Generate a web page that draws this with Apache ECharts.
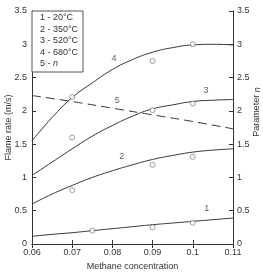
<!DOCTYPE html>
<html>
  <head>
    <meta charset="utf-8" />
    <title>Flame rate vs methane concentration</title>
    <style>
      html, body { margin: 0; padding: 0; background: #fff; }
    </style>
  </head>
  <body>
    <script type="text/javascript" src="https://cdn.jsdelivr.net/npm/echarts/dist/echarts.min.js"></script>

    <div id="container" style="width: 263px;height: 274px;"></div>

    <script type="text/javascript">
    var curveX = [0.06, 0.065, 0.07, 0.075, 0.08, 0.085, 0.09, 0.095, 0.1, 0.105, 0.11];

    // fitted curves (flame rate, m/s)
    var curve20 = [0.115, 0.145, 0.17, 0.2, 0.23, 0.26, 0.29, 0.315, 0.34, 0.365, 0.39];
    var curve350 = [0.6, 0.75, 0.88, 1.0, 1.1, 1.19, 1.27, 1.33, 1.38, 1.41, 1.43];
    var curve520 = [1.03, 1.23, 1.43, 1.62, 1.78, 1.92, 2.03, 2.09, 2.14, 2.16, 2.17];
    var curve680 = [1.55, 1.9, 2.2, 2.42, 2.62, 2.77, 2.88, 2.95, 2.99, 3.0, 2.99];

    // parameter n (right axis)
    var nX = [0.06, 0.07, 0.08, 0.09, 0.1, 0.11];
    var nValues = [2.23, 2.14, 2.04, 1.94, 1.84, 1.73];

    // measured points
    var pts20 = [[0.075, 0.2], [0.09, 0.25], [0.1, 0.32]];
    var pts350 = [[0.07, 0.81], [0.09, 1.19], [0.1, 1.31]];
    var pts520 = [[0.07, 1.6], [0.09, 2.01], [0.1, 2.11]];
    var pts680 = [[0.07, 2.21], [0.09, 2.75], [0.1, 3.0]];

    // curve number labels
    var curveLabels = [
        ['1', 0.1035, 0.54],
        ['2', 0.0823, 1.31],
        ['3', 0.1033, 2.31],
        ['4', 0.0804, 2.78],
        ['5', 0.0812, 2.15]
    ];

    var legendLines = ['1 - 20°C', '2 - 350°C', '3 - 520°C', '4 - 680°C', '5 - {i|n}'];

    function pair(xs, ys) {
        return xs.map(function (x, i) { return [x, ys[i]]; });
    }

    var FONT = 'Liberation Sans';
    var INK = '#333';

    var myChart = echarts.init(document.getElementById('container'));

    function curveSeries(ys) {
        return {
            type: 'line',
            smooth: true,
            showSymbol: false,
            silent: true,
            data: pair(curveX, ys),
            lineStyle: { color: INK, width: 1 },
            z: 3
        };
    }

    function pointSeries(pts) {
        return {
            type: 'scatter',
            symbol: 'circle',
            symbolSize: 5,
            data: pts,
            itemStyle: { color: '#fff', borderColor: '#666', borderWidth: 0.8 },
            z: 4
        };
    }

    var legendGraphic = [{
        type: 'rect',
        shape: { x: 32, y: 11, width: 51, height: 61 },
        style: { fill: '#fff', stroke: '#555', lineWidth: 1 },
        z: 10
    }];
    legendLines.forEach(function (t, i) {
        legendGraphic.push({
            type: 'text',
            left: 40,
            top: 13 + i * 11.6,
            z: 11,
            style: {
                text: t,
                fontFamily: FONT,
                fontSize: 9,
                fill: INK,
                rich: { i: { fontStyle: 'italic', fontFamily: FONT, fontSize: 9, fill: INK } }
            }
        });
    });
    legendGraphic.push({
        type: 'text',
        x: 257,
        y: 112,
        rotation: Math.PI / 2,
        z: 11,
        style: {
            text: 'Parameter {i|n}',
            fontFamily: FONT,
            fontSize: 9,
            fill: INK,
            align: 'center',
            verticalAlign: 'middle',
            rich: { i: { fontStyle: 'italic', fontFamily: FONT, fontSize: 9, fill: INK } }
        }
    });

    var axisLabelStyle = { fontFamily: FONT, fontSize: 9, color: INK };

    var option = {
        animation: false,
        grid: { left: 32, right: 30, top: 11, bottom: 30, outerBoundsMode: 'none', containLabel: false },
        xAxis: [{
            type: 'value',
            min: 0.06,
            max: 0.11,
            interval: 0.01,
            name: 'Methane concentration',
            nameLocation: 'middle',
            nameGap: 18,
            nameMoveOverlap: false,
            nameTextStyle: { fontFamily: FONT, fontSize: 9, color: INK },
            axisLine: { lineStyle: { color: INK, width: 1 } },
            axisTick: { inside: true, length: 4, lineStyle: { color: INK } },
            axisLabel: Object.assign({ margin: 4, formatter: function (v) { return String(Number(v.toFixed(2))); } }, axisLabelStyle),
            splitLine: { show: false }
        }, {
            type: 'value',
            position: 'top',
            min: 0.06,
            max: 0.11,
            interval: 0.01,
            axisLine: { lineStyle: { color: INK, width: 1 } },
            axisTick: { inside: true, length: 4, lineStyle: { color: INK } },
            axisLabel: { show: false },
            splitLine: { show: false }
        }],
        yAxis: [{
            type: 'value',
            min: 0,
            max: 3.5,
            interval: 0.5,
            name: 'Flame rate (m/s)',
            nameLocation: 'middle',
            nameGap: 19,
            nameMoveOverlap: false,
            nameTextStyle: { fontFamily: FONT, fontSize: 9, color: INK },
            axisLine: { show: true, lineStyle: { color: INK, width: 1 } },
            axisTick: { show: true, inside: true, length: 4, lineStyle: { color: INK } },
            axisLabel: Object.assign({ margin: 5 }, axisLabelStyle),
            splitLine: { show: false }
        }, {
            type: 'value',
            position: 'right',
            min: 0,
            max: 3.5,
            interval: 0.5,
            axisLine: { show: true, lineStyle: { color: INK, width: 1 } },
            axisTick: { show: true, inside: true, length: 4, lineStyle: { color: INK } },
            axisLabel: Object.assign({ margin: 4 }, axisLabelStyle),
            splitLine: { show: false }
        }],
        graphic: legendGraphic,
        series: [
            curveSeries(curve20),
            curveSeries(curve350),
            curveSeries(curve520),
            curveSeries(curve680),
            {
                type: 'line',
                yAxisIndex: 1,
                showSymbol: false,
                smooth: true,
                data: pair(nX, nValues),
                lineStyle: { color: INK, width: 1, type: [9, 5] },
                z: 3
            },
            pointSeries(pts20),
            pointSeries(pts350),
            pointSeries(pts520),
            pointSeries(pts680),
            {
                type: 'scatter',
                symbolSize: 0,
                data: curveLabels.map(function (c) { return { name: c[0], value: [c[1], c[2]] }; }),
                label: {
                    show: true,
                    position: 'inside',
                    formatter: '{b}',
                    fontFamily: FONT,
                    fontSize: 9,
                    color: INK
                },
                z: 5
            }
        ]
    };

    myChart.setOption(option);
    window.addEventListener('resize', myChart.resize);
    </script>
  </body>
</html>
